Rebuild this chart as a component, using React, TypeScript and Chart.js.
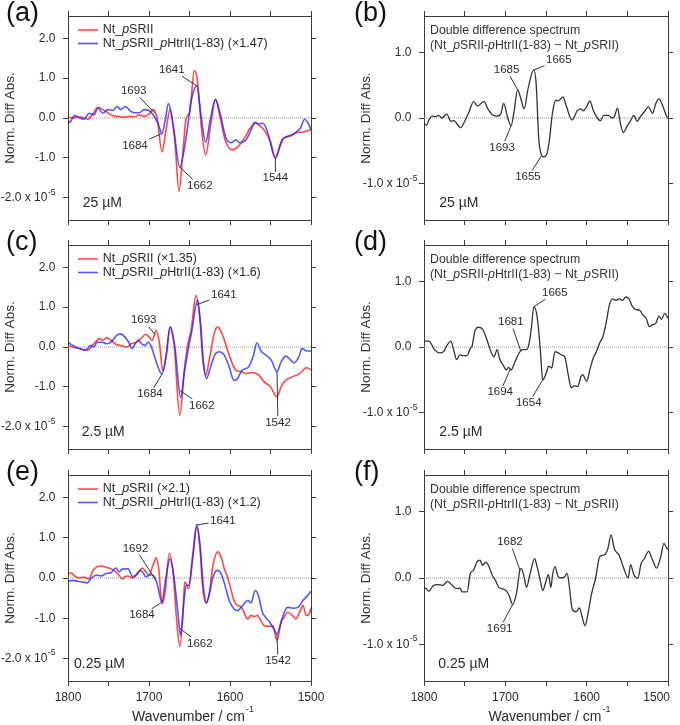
import React, { useEffect, useRef } from 'react';
import { Chart, registerables } from 'chart.js';

Chart.register(...registerables);

type Pt = [number, number];

const FONT = "'Liberation Sans', Arial, Helvetica, sans-serif";
const RED = 'rgba(255, 20, 20, 0.78)';
const BLUE = 'rgba(30, 30, 255, 0.75)';
const BLACK = '#333333';
const FRAME = '#3c3c3c';
const TEXT = '#2a2a2a';
const ZERO = '#9a9a9a';

// Axis ticks (wavenumber in cm^-1, normalized difference absorbance x 10^-5)
const X_TICKS = [1800, 1750, 1700, 1650, 1600, 1550, 1500];
const X_LABELS = [1800, 1700, 1600, 1500];
const Y_TICKS_OVERLAY = [-2, -1, 0, 1, 2];
const Y_TICKS_DOUBLE = [-1, 0, 1];
const Y_RANGE_OVERLAY: [number, number] = [-2.56, 2.56];
const Y_RANGE_DOUBLE: [number, number] = [-1.55, 1.55];

// ---- 25 uM ----
const A_SRII: Pt[] = [
  [1800, 0.02], [1794, 0.0], [1788, 0.03], [1782, 0.02], [1776, -0.03], [1770, 0.08], [1763, 0.27],
  [1757, 0.21], [1751, 0.13], [1745, 0.06], [1737, 0.03], [1730, 0.02], [1724, 0.04], [1718, 0.03],
  [1712, 0.08], [1706, 0.04], [1700, 0.1], [1695, 0.21], [1690, 0.0], [1684, -0.85], [1679, -0.3],
  [1674, 0.22], [1668, -0.6], [1663, -1.84], [1658, -0.8], [1654, 0.0], [1650, 0.12], [1644, 1.19],
  [1640, 0.9], [1635, -0.3], [1630, -0.93], [1624, -0.2], [1618, 0.47], [1612, 0.0], [1606, -0.55],
  [1597, -0.8], [1590, -0.72], [1582, -0.5], [1575, -0.25], [1569, -0.13], [1563, -0.2], [1557, -0.33],
  [1550, -0.6], [1544, -1.0], [1538, -0.7], [1533, -0.5], [1525, -0.45], [1518, -0.37], [1510, -0.35],
  [1504, -0.32], [1500, -0.29],
];
const A_COMPLEX: Pt[] = [
  [1800, -0.04], [1798, -0.11], [1792, 0.06], [1786, 0.0], [1780, -0.03], [1774, 0.12], [1768, 0.08],
  [1763, 0.25], [1757, 0.12], [1751, 0.21], [1745, 0.19], [1739, 0.29], [1735, 0.21], [1729, 0.29],
  [1724, 0.19], [1718, 0.13], [1712, 0.13], [1706, 0.21], [1700, 0.19], [1695, 0.08], [1689, -0.13],
  [1684, -0.39], [1680, -0.05], [1676, 0.36], [1670, -0.2], [1662, -1.23], [1654, -0.46], [1648, 0.42],
  [1641, 0.81], [1636, 0.1], [1630, -0.61], [1624, 0.0], [1618, 0.46], [1612, 0.1], [1605, -0.5],
  [1598, -0.62], [1593, -0.55], [1588, -0.62], [1580, -0.54], [1574, -0.3], [1569, -0.11], [1564, -0.15],
  [1559, -0.13], [1553, -0.4], [1544, -1.01], [1536, -0.55], [1530, -0.47], [1524, -0.42], [1518, -0.35],
  [1513, -0.25], [1508, -0.03], [1503, -0.15], [1500, -0.29],
];
const B_DOUBLE: Pt[] = [
  [1800, -0.08], [1797, -0.11], [1794, -0.03], [1790, 0.03], [1786, 0.02], [1782, 0.04], [1778, 0.0],
  [1772, 0.06], [1767, -0.05], [1763, -0.04], [1760, -0.08], [1755, -0.15], [1750, -0.05], [1745, 0.08],
  [1739, 0.25], [1734, 0.18], [1730, 0.22], [1726, 0.25], [1722, 0.15], [1716, 0.05], [1711, 0.03],
  [1706, 0.05], [1702, 0.22], [1697, 0.0], [1693, -0.12], [1689, 0.12], [1685, 0.43], [1681, 0.3],
  [1677, 0.14], [1672, 0.45], [1665, 0.73], [1662, 0.5], [1659, -0.3], [1656, -0.55], [1653, -0.59],
  [1649, -0.55], [1646, -0.35], [1642, 0.08], [1638, 0.27], [1635, 0.26], [1629, 0.32], [1626, 0.22],
  [1618, -0.03], [1612, 0.1], [1608, 0.14], [1604, 0.11], [1600, 0.17], [1596, 0.26], [1592, 0.12],
  [1587, 0.0], [1583, -0.04], [1579, 0.04], [1573, 0.04], [1569, 0.0], [1566, 0.02], [1562, 0.15],
  [1559, -0.05], [1555, -0.22], [1550, -0.12], [1546, -0.04], [1542, 0.04], [1538, -0.05], [1534, 0.02],
  [1530, 0.08], [1524, 0.17], [1519, 0.07], [1515, 0.22], [1511, 0.29], [1507, 0.2], [1501, 0.01],
  [1500, 0.0],
];

// ---- 2.5 uM ----
const C_SRII: Pt[] = [
  [1800, 0.04], [1794, 0.0], [1786, -0.04], [1776, -0.08], [1768, 0.08], [1761, 0.21], [1757, 0.17],
  [1753, 0.23], [1747, 0.17], [1741, 0.07], [1735, 0.04], [1728, 0.0], [1722, 0.08], [1716, 0.12],
  [1710, 0.21], [1704, 0.32], [1700, 0.25], [1696, 0.17], [1691, 0.42], [1687, 0.08], [1683, -0.6],
  [1679, -0.25], [1674, 0.5], [1669, 0.05], [1662, -1.71], [1656, -0.5], [1652, 0.08], [1648, 0.42],
  [1642, 1.29], [1637, 0.67], [1634, -0.25], [1630, -0.71], [1625, -0.25], [1619, 0.38], [1615, 0.5],
  [1609, 0.29], [1603, -0.08], [1597, -0.42], [1593, -0.58], [1586, -0.62], [1580, -0.67], [1572, -0.64],
  [1564, -0.71], [1558, -0.87], [1550, -1.0], [1542, -1.25], [1537, -1.0], [1531, -0.83], [1523, -0.75],
  [1514, -0.67], [1506, -0.52], [1500, -0.57],
];
const C_COMPLEX: Pt[] = [
  [1800, 0.12], [1794, 0.04], [1786, -0.04], [1778, -0.08], [1772, 0.04], [1768, 0.0], [1764, 0.12],
  [1758, 0.12], [1752, 0.08], [1746, 0.14], [1740, 0.29], [1735, 0.33], [1729, 0.23], [1725, 0.12],
  [1721, -0.04], [1717, 0.08], [1713, 0.17], [1709, 0.08], [1705, 0.04], [1701, 0.12], [1697, 0.0],
  [1693, -0.25], [1684, -0.68], [1679, -0.25], [1674, 0.5], [1668, 0.0], [1661, -1.27], [1656, -0.58],
  [1651, 0.0], [1647, 0.42], [1640, 1.17], [1636, 0.5], [1633, -0.33], [1629, -0.79], [1624, -0.5],
  [1618, -0.17], [1613, -0.12], [1607, -0.21], [1601, -0.5], [1595, -0.84], [1591, -0.8], [1585, -0.58],
  [1577, -0.5], [1571, -0.21], [1567, 0.1], [1561, -0.12], [1555, -0.21], [1549, -0.33], [1542, -0.62],
  [1537, -0.38], [1531, -0.23], [1525, -0.33], [1521, -0.4], [1515, -0.25], [1511, -0.04], [1505, -0.1],
  [1500, -0.1],
];
const D_DOUBLE: Pt[] = [
  [1800, 0.09], [1794, 0.09], [1787, -0.04], [1781, -0.09], [1776, -0.07], [1771, 0.04], [1767, 0.09],
  [1763, -0.07], [1760, -0.19], [1756, -0.12], [1753, -0.13], [1747, -0.13], [1743, -0.02], [1741, 0.01],
  [1737, 0.26], [1733, 0.3], [1728, 0.27], [1724, 0.16], [1720, 0.01], [1717, -0.09], [1714, -0.15],
  [1710, -0.04], [1707, -0.18], [1702, -0.29], [1699, -0.35], [1696, -0.31], [1693, -0.35], [1688, -0.22],
  [1682, -0.07], [1678, -0.04], [1674, -0.04], [1671, 0.04], [1668, 0.29], [1665, 0.61], [1661, 0.47],
  [1657, -0.04], [1654, -0.5], [1649, -0.37], [1647, -0.29], [1643, -0.32], [1639, -0.07], [1635, -0.09],
  [1631, -0.12], [1627, -0.15], [1623, -0.4], [1619, -0.62], [1615, -0.59], [1611, -0.6], [1607, -0.45],
  [1605, -0.42], [1600, -0.52], [1596, -0.34], [1592, -0.17], [1588, -0.07], [1584, 0.06], [1580, 0.16],
  [1576, 0.37], [1572, 0.64], [1568, 0.73], [1564, 0.71], [1560, 0.73], [1556, 0.71], [1552, 0.76],
  [1548, 0.73], [1544, 0.62], [1540, 0.57], [1535, 0.56], [1531, 0.49], [1527, 0.44], [1523, 0.31],
  [1519, 0.34], [1515, 0.36], [1511, 0.47], [1508, 0.42], [1504, 0.51], [1500, 0.44],
];

// ---- 0.25 uM ----
const E_SRII: Pt[] = [
  [1800, 0.08], [1796, 0.13], [1792, 0.05], [1786, 0.0], [1780, 0.02], [1774, -0.02], [1770, 0.15],
  [1765, 0.27], [1759, 0.3], [1753, 0.27], [1747, 0.23], [1741, 0.15], [1737, 0.07], [1733, -0.03],
  [1730, 0.03], [1726, 0.05], [1720, 0.0], [1714, 0.11], [1708, 0.25], [1704, 0.15], [1700, 0.07],
  [1695, 0.32], [1691, 0.5], [1688, 0.23], [1684, -0.64], [1680, -0.35], [1675, 0.61], [1670, 0.07],
  [1666, -1.02], [1662, -1.7], [1658, -0.85], [1656, -0.1], [1654, -0.14], [1651, -0.27], [1646, 0.48],
  [1641, 1.27], [1637, 0.73], [1634, -0.18], [1630, -0.62], [1626, -0.43], [1621, 0.32], [1615, 0.65],
  [1611, 0.52], [1607, 0.23], [1603, 0.02], [1599, -0.27], [1595, -0.56], [1591, -0.68], [1586, -0.72],
  [1582, -0.89], [1578, -1.02], [1574, -0.93], [1570, -0.96], [1566, -0.93], [1562, -1.06], [1558, -1.18],
  [1551, -1.2], [1547, -1.18], [1542, -1.56], [1537, -1.1], [1533, -0.97], [1529, -0.85], [1523, -0.93],
  [1519, -1.02], [1514, -0.85], [1510, -0.68], [1506, -0.93], [1502, -0.89], [1500, -0.74],
];
const E_COMPLEX: Pt[] = [
  [1800, -0.08], [1794, -0.06], [1788, -0.08], [1782, -0.1], [1776, -0.12], [1772, -0.02], [1765, 0.07],
  [1759, 0.05], [1753, 0.11], [1747, 0.13], [1741, 0.25], [1737, 0.15], [1733, 0.22], [1726, 0.23],
  [1720, 0.03], [1716, 0.08], [1711, 0.19], [1708, 0.15], [1704, 0.03], [1698, 0.08], [1694, 0.05],
  [1690, -0.14], [1684, -0.6], [1680, -0.1], [1674, 0.48], [1670, 0.15], [1665, -0.72], [1661, -1.43],
  [1657, -0.6], [1654, -0.18], [1651, -0.18], [1646, 0.57], [1641, 1.32], [1637, 0.82], [1633, -0.18],
  [1629, -0.62], [1625, -0.35], [1621, 0.02], [1616, 0.19], [1611, 0.11], [1605, -0.27], [1601, -0.56],
  [1595, -0.77], [1591, -0.81], [1585, -0.7], [1578, -0.56], [1574, -0.62], [1569, -0.31], [1565, -0.43],
  [1560, -0.85], [1556, -0.98], [1551, -1.1], [1546, -1.27], [1542, -1.39], [1537, -1.1], [1533, -0.85],
  [1529, -0.73], [1522, -0.75], [1516, -0.73], [1510, -0.56], [1505, -0.45], [1500, -0.33],
];
const F_DOUBLE: Pt[] = [
  [1800, -0.15], [1797, -0.16], [1794, -0.2], [1789, -0.12], [1783, -0.1], [1777, -0.11], [1771, -0.05],
  [1767, -0.09], [1763, -0.14], [1759, -0.16], [1756, -0.15], [1753, -0.21], [1747, -0.21], [1743, 0.07],
  [1739, 0.12], [1735, 0.24], [1731, 0.27], [1728, 0.19], [1724, 0.24], [1720, 0.17], [1716, 0.04],
  [1712, -0.04], [1708, -0.14], [1704, -0.16], [1699, -0.19], [1695, -0.27], [1691, -0.4], [1686, -0.21],
  [1682, 0.12], [1680, 0.14], [1677, 0.02], [1674, -0.14], [1670, 0.04], [1664, 0.29], [1661, 0.17],
  [1657, -0.04], [1654, -0.19], [1651, -0.09], [1647, 0.05], [1644, -0.14], [1642, 0.04], [1639, 0.17],
  [1635, 0.02], [1631, 0.0], [1627, 0.02], [1624, 0.07], [1621, -0.16], [1618, -0.46], [1613, -0.51],
  [1609, -0.45], [1606, -0.56], [1602, -0.72], [1598, -0.51], [1594, -0.24], [1589, 0.0], [1584, 0.32],
  [1578, 0.35], [1574, 0.44], [1570, 0.65], [1566, 0.44], [1560, 0.34], [1555, 0.17], [1549, 0.0],
  [1546, 0.2], [1542, 0.05], [1537, 0.0], [1533, 0.22], [1529, 0.29], [1524, 0.4], [1519, 0.27],
  [1514, 0.15], [1509, 0.32], [1505, 0.52], [1501, 0.44], [1500, 0.44],
];

// Peak positions marked in each panel (cm^-1)
const A_PEAKS = [1693, 1684, 1641, 1662, 1544];
const B_PEAKS = [1685, 1665, 1693, 1655];
const C_PEAKS = [1693, 1684, 1641, 1662, 1542];
const D_PEAKS = [1665, 1681, 1694, 1654];
const E_PEAKS = [1692, 1684, 1641, 1662, 1542];
const F_PEAKS = [1682, 1691];

const LEGEND_A = ['Nt_*p*SRII', 'Nt_*p*SRII_*p*HtrII(1-83) (×1.47)'];
const LEGEND_C = ['Nt_*p*SRII (×1.35)', 'Nt_*p*SRII_*p*HtrII(1-83) (×1.6)'];
const LEGEND_E = ['Nt_*p*SRII (×2.1)', 'Nt_*p*SRII_*p*HtrII(1-83) (×1.2)'];
const DOUBLE_TITLE = ['Double difference spectrum', '(Nt_*p*SRII-*p*HtrII(1-83) − Nt_*p*SRII)'];

// Label placement of each marked peak: series index, label offset from the peak (px)
const A_LABEL_POS = [[0, -21, -22], [1, -27, 12], [1, -25, -16], [1, 20, 19], [1, 0, 20]];
const B_LABEL_POS = [[0, -11, -20], [0, 25, -10], [0, -9, 22], [0, -14, 22]];
const C_LABEL_POS = [[0, -11, -14], [1, -12, 20], [1, 27, -10], [1, 22, 15], [1, 1, 51]];
const D_LABEL_POS = [[0, 21, -14], [0, -10, -29], [0, -10, 23], [0, -14, 23]];
const E_LABEL_POS = [[1, -20, -31], [1, -20, 13], [1, 26, -4], [1, 20, 15], [1, 1, 27]];
const F_LABEL_POS = [[0, -10, -28], [0, -13, 24]];

interface Panel {
  letter: string;
  col: number;
  row: number;
  series: { data: Pt[]; color: string; width: number }[];
  yRange: [number, number];
  yTicks: number[];
  legend?: string[];
  title?: string[];
  conc: string;
  concX: number;
  peaks: number[];
  labelPos: number[][];
}

const PANELS: Panel[] = [
  { letter: '(a)', col: 0, row: 0, series: [{ data: A_SRII, color: RED, width: 1.6 }, { data: A_COMPLEX, color: BLUE, width: 1.6 }],
    yRange: Y_RANGE_OVERLAY, yTicks: Y_TICKS_OVERLAY, legend: LEGEND_A, conc: '25 µM', concX: 14.7, peaks: A_PEAKS, labelPos: A_LABEL_POS },
  { letter: '(b)', col: 1, row: 0, series: [{ data: B_DOUBLE, color: BLACK, width: 1.3 }],
    yRange: Y_RANGE_DOUBLE, yTicks: Y_TICKS_DOUBLE, title: DOUBLE_TITLE, conc: '25 µM', concX: 15.3, peaks: B_PEAKS, labelPos: B_LABEL_POS },
  { letter: '(c)', col: 0, row: 1, series: [{ data: C_SRII, color: RED, width: 1.6 }, { data: C_COMPLEX, color: BLUE, width: 1.6 }],
    yRange: Y_RANGE_OVERLAY, yTicks: Y_TICKS_OVERLAY, legend: LEGEND_C, conc: '2.5 µM', concX: 13.7, peaks: C_PEAKS, labelPos: C_LABEL_POS },
  { letter: '(d)', col: 1, row: 1, series: [{ data: D_DOUBLE, color: BLACK, width: 1.3 }],
    yRange: Y_RANGE_DOUBLE, yTicks: Y_TICKS_DOUBLE, title: DOUBLE_TITLE, conc: '2.5 µM', concX: 15.3, peaks: D_PEAKS, labelPos: D_LABEL_POS },
  { letter: '(e)', col: 0, row: 2, series: [{ data: E_SRII, color: RED, width: 1.6 }, { data: E_COMPLEX, color: BLUE, width: 1.6 }],
    yRange: Y_RANGE_OVERLAY, yTicks: Y_TICKS_OVERLAY, legend: LEGEND_E, conc: '0.25 µM', concX: 6, peaks: E_PEAKS, labelPos: E_LABEL_POS },
  { letter: '(f)', col: 1, row: 2, series: [{ data: F_DOUBLE, color: BLACK, width: 1.3 }],
    yRange: Y_RANGE_DOUBLE, yTicks: Y_TICKS_DOUBLE, title: DOUBLE_TITLE, conc: '0.25 µM', concX: 14.3, peaks: F_PEAKS, labelPos: F_LABEL_POS },
];

// Grid of panels on the page
const COL_LEFT = [0, 340];
const COL_W = 340;
const ROW_TOP = [0, 230, 460];
const ROW_H = [230, 230, 265];
const COL_AREA = [[68, 311], [84, 328]];
const ROW_AREA = [[16, 220], [15, 219], [15, 221]];

function valueAt(s: Pt[], wn: number): number {
  for (let i = 0; i < s.length - 1; i++) {
    const [x0, y0] = s[i];
    const [x1, y1] = s[i + 1];
    if ((wn <= x0 && wn >= x1) || (wn >= x0 && wn <= x1)) {
      const t = x1 === x0 ? 0 : (wn - x0) / (x1 - x0);
      return y0 + t * (y1 - y0);
    }
  }
  return 0;
}

function setFont(ctx: CanvasRenderingContext2D, size: number, italic = false) {
  ctx.font = `${italic ? 'italic ' : ''}${size}px ${FONT}`;
}

// Text with *italic* segments
function drawRich(ctx: CanvasRenderingContext2D, text: string, x: number, y: number, size: number) {
  let cx = x;
  text.split('*').forEach((seg, i) => {
    setFont(ctx, size, i % 2 === 1);
    ctx.fillText(seg, cx, y);
    cx += ctx.measureText(seg).width;
  });
}

function makeDecor(p: Panel) {
  return {
    id: 'decor',
    afterDraw(chart: any) {
      const ctx: CanvasRenderingContext2D = chart.ctx;
      const ca = chart.chartArea;
      const xs = chart.scales.x;
      const ys = chart.scales.y;
      ctx.save();
      ctx.fillStyle = TEXT;
      ctx.textBaseline = 'middle';

      // y tick labels; the lowest one carries the exponent
      const labelRight = ca.left - 12.5;
      p.yTicks.forEach((v, i) => {
        const py = ys.getPixelForValue(v);
        const base = v.toFixed(1);
        if (i === 0) {
          setFont(ctx, 8.5);
          const supW = ctx.measureText('-5').width;
          const right = labelRight + (p.col === 1 ? 6 : 0);
          setFont(ctx, 12);
          ctx.textAlign = 'right';
          ctx.fillText(`${base} x 10`, right - supW - 0.5, py);
          setFont(ctx, 8.5);
          ctx.textAlign = 'left';
          ctx.fillText('-5', right - supW, py - 5.5);
        } else {
          setFont(ctx, 12);
          ctx.textAlign = 'right';
          ctx.fillText(base, labelRight, py);
        }
      });

      // x tick labels and axis title on the bottom row
      if (p.row === 2) {
        setFont(ctx, 12);
        ctx.textAlign = 'center';
        X_LABELS.forEach((v) => {
          const w = ctx.measureText(String(v)).width;
          const px = Math.min(xs.getPixelForValue(v), chart.width - 10 - w / 2);
          ctx.fillText(String(v), px, ca.bottom + 17);
        });
        setFont(ctx, 14);
        const main = 'Wavenumber / cm';
        const mw = ctx.measureText(main).width;
        setFont(ctx, 9);
        const sw = ctx.measureText('-1').width;
        const cx = (ca.left + ca.right) / 2 + 3;
        const x0 = cx - (mw + sw) / 2;
        const ty = ca.bottom + 36;
        ctx.textAlign = 'left';
        setFont(ctx, 14);
        ctx.fillText(main, x0, ty);
        setFont(ctx, 9);
        ctx.fillText('-1', x0 + mw + 1, ty - 7);
      }

      // y axis title
      ctx.save();
      ctx.translate(ca.left - 57.5, (ca.top + ca.bottom) / 2);
      ctx.rotate(-Math.PI / 2);
      setFont(ctx, 13.5);
      ctx.textAlign = 'center';
      ctx.fillStyle = '#333';
      ctx.fillText('Norm. Diff Abs.', 0, 0);
      ctx.restore();

      // panel letter
      setFont(ctx, 27);
      ctx.textAlign = 'left';
      ctx.fillStyle = '#111';
      ctx.fillText(p.letter, p.col === 0 ? 6 : 14, p.row === 0 ? 14 : 13);

      // legend
      ctx.fillStyle = TEXT;
      if (p.legend) {
        p.legend.forEach((txt, i) => {
          const ly = ca.top + 14 + i * 13.5;
          ctx.strokeStyle = p.series[i].color;
          ctx.lineWidth = 1.6;
          ctx.beginPath();
          ctx.moveTo(ca.left + 10, ly);
          ctx.lineTo(ca.left + 30, ly);
          ctx.stroke();
          ctx.fillStyle = TEXT;
          ctx.textAlign = 'left';
          drawRich(ctx, txt, ca.left + 34.7, ly, 12.5);
        });
      }

      // double difference title
      if (p.title) {
        ctx.fillStyle = '#333';
        ctx.textAlign = 'left';
        p.title.forEach((txt, i) => drawRich(ctx, txt, ca.left + 6, ca.top + 15 + i * 14.5, 12.3));
      }

      // concentration
      setFont(ctx, 14);
      ctx.fillStyle = TEXT;
      ctx.textAlign = 'left';
      ctx.fillText(p.conc, ca.left + p.concX, ca.bottom - 17);

      // peak labels with leader lines
      setFont(ctx, 11.5);
      ctx.textAlign = 'center';
      ctx.strokeStyle = '#333';
      ctx.lineWidth = 1;
      p.peaks.forEach((wn, i) => {
        const [si, dx, dy] = p.labelPos[i];
        const tx = xs.getPixelForValue(wn);
        const ty = ys.getPixelForValue(valueAt(p.series[si].data, wn));
        const lx = tx + dx;
        const ly = ty + dy;
        const text = String(wn);
        const hw = ctx.measureText(text).width / 2 + 1.5;
        const hh = 6.5;
        const vx = tx - lx;
        const vy = ty - ly;
        const t = Math.min(vx !== 0 ? hw / Math.abs(vx) : Infinity, vy !== 0 ? hh / Math.abs(vy) : Infinity);
        if (t < 1) {
          ctx.beginPath();
          ctx.moveTo(lx + vx * t, ly + vy * t);
          ctx.lineTo(tx, ty);
          ctx.stroke();
        }
        ctx.fillStyle = TEXT;
        ctx.fillText(text, lx, ly);
      });
      ctx.restore();
    },
  };
}

function PanelChart({ p }: { p: Panel }) {
  const ref = useRef<HTMLCanvasElement>(null);
  const H = ROW_H[p.row];

  useEffect(() => {
    if (!ref.current) return;
    const [aLeft, aRight] = COL_AREA[p.col];
    const [aTop, aBottom] = ROW_AREA[p.row];

    const axisBase = {
      type: 'linear' as const,
      grid: { drawOnChartArea: false, drawTicks: true, tickLength: 5, color: FRAME, lineWidth: 1 },
      border: { display: true, color: FRAME, width: 1 },
      ticks: { display: false },
    };
    const xAxis = (position: 'top' | 'bottom', size: number) => ({
      ...axisBase,
      position,
      min: 1500,
      max: 1800,
      reverse: true,
      afterBuildTicks: (s: any) => { s.ticks = X_TICKS.map((value) => ({ value })); },
      afterFit: (s: any) => { s.height = size; s.paddingLeft = 0; s.paddingRight = 0; },
    });
    const yAxis = (position: 'left' | 'right', size: number) => ({
      ...axisBase,
      position,
      min: p.yRange[0],
      max: p.yRange[1],
      afterBuildTicks: (s: any) => { s.ticks = p.yTicks.map((value) => ({ value })); },
      afterFit: (s: any) => { s.width = size; s.paddingTop = 0; s.paddingBottom = 0; },
    });

    const curves = p.series.map((s) => ({
      data: s.data.map(([x, y]) => ({ x, y })),
      borderColor: s.color,
      borderWidth: s.width,
      pointRadius: 0,
      cubicInterpolationMode: 'monotone' as const,
      fill: false,
    }));
    const zeroLine = {
      data: [{ x: 1800, y: 0 }, { x: 1500, y: 0 }],
      borderColor: ZERO,
      borderWidth: 1,
      borderDash: [1, 1],
      pointRadius: 0,
      fill: false,
    };

    const chart = new Chart(ref.current, {
      type: 'line',
      data: { datasets: [...curves.reverse(), zeroLine] as any },
      options: {
        responsive: false,
        maintainAspectRatio: false,
        animation: false,
        devicePixelRatio: 1,
        layout: { padding: 0 },
        plugins: { legend: { display: false }, tooltip: { enabled: false } },
        scales: {
          x: xAxis('bottom', H - aBottom),
          x2: xAxis('top', aTop),
          y: yAxis('left', aLeft),
          y2: yAxis('right', COL_W - aRight),
        } as any,
      },
      plugins: [makeDecor(p)],
    });
    return () => chart.destroy();
  }, [p, H]);

  return (
    <canvas
      ref={ref}
      width={COL_W}
      height={H}
      style={{ position: 'absolute', left: COL_LEFT[p.col], top: ROW_TOP[p.row], width: COL_W, height: H }}
    />
  );
}

export default function App() {
  return (
    <div style={{ position: 'absolute', left: 0, top: 0, width: 680, height: 725, background: '#fff', overflow: 'hidden' }}>
      {PANELS.map((p) => (
        <PanelChart key={p.letter} p={p} />
      ))}
    </div>
  );
}
